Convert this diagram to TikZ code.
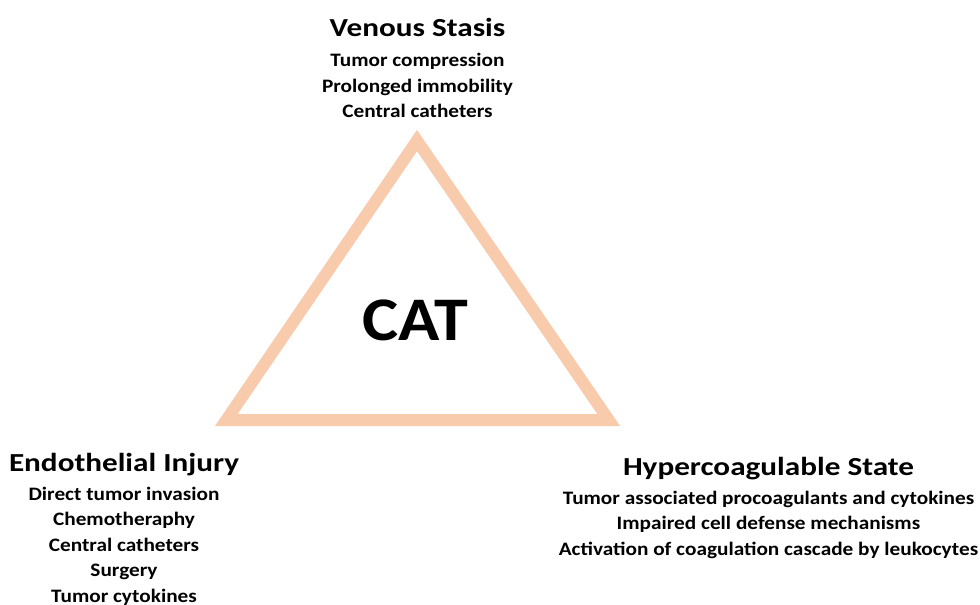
\documentclass[tikz,border=0pt]{standalone}
\usepackage{fontspec}
\setmainfont{Carlito}
\newfontfamily\headfont{Carlito Bold}[FakeStretch=1.2]
\newfontfamily\itemfont{Carlito Bold}[FakeStretch=1.12]
\newfontfamily\catfont{Carlito Bold}[FakeStretch=1.1]
\usetikzlibrary{calc}
\definecolor{peach}{HTML}{F8CBAD}
\tikzset{
  head/.style={anchor=base, inner sep=0pt, font=\headfont\fontsize{26}{30}\selectfont},
  item/.style={anchor=base, inner sep=0pt, font=\itemfont\fontsize{19}{24}\selectfont},
  tri/.style={draw=peach, line width=12pt, line join=miter},
}

\begin{document}
\begin{tikzpicture}[x=1pt,y=-1pt]
            \useasboundingbox (0,0) rectangle (980,605);
            % triangle
            \coordinate (apex) at (417,140.6);
            \coordinate (bl) at (226.3,420);
            \coordinate (br) at (608.7,420);
            \draw[tri] (apex)--(bl)--(br)--cycle;
            \node[anchor=base, inner sep=0pt, font=\catfont\fontsize{62}{70}\selectfont] (cat) at (415,340) {CAT};
            % venous stasis
            \node[head] (vs) at (417.5,36) {Venous Stasis};
            \foreach \t [count=\i] in {Tumor compression, Prolonged immobility, Central catheters}
                \node[item] (vs\i) at (417.5,{66.5+25.5*(\i-1)}) {\t};
            % endothelial injury
            \node[head] (ei) at (124,471) {Endothelial Injury};
            \foreach \t [count=\i] in {Direct tumor invasion, Chemotheraphy, Central catheters, Surgery, Tumor cytokines}
                \node[item] (ei\i) at (124,{500+25.5*(\i-1)}) {\t};
            % hypercoagulable state
            \node[head] (hs) at (768.5,475) {Hypercoagulable State};
            \foreach \t [count=\i] in {Tumor associated procoagulants and cytokines, Impaired cell defense mechanisms, Activation of coagulation cascade by leukocytes}
                \node[item] (hs\i) at (768.5,{504+25.5*(\i-1)}) {\t};
        \end{tikzpicture}
\end{document}
